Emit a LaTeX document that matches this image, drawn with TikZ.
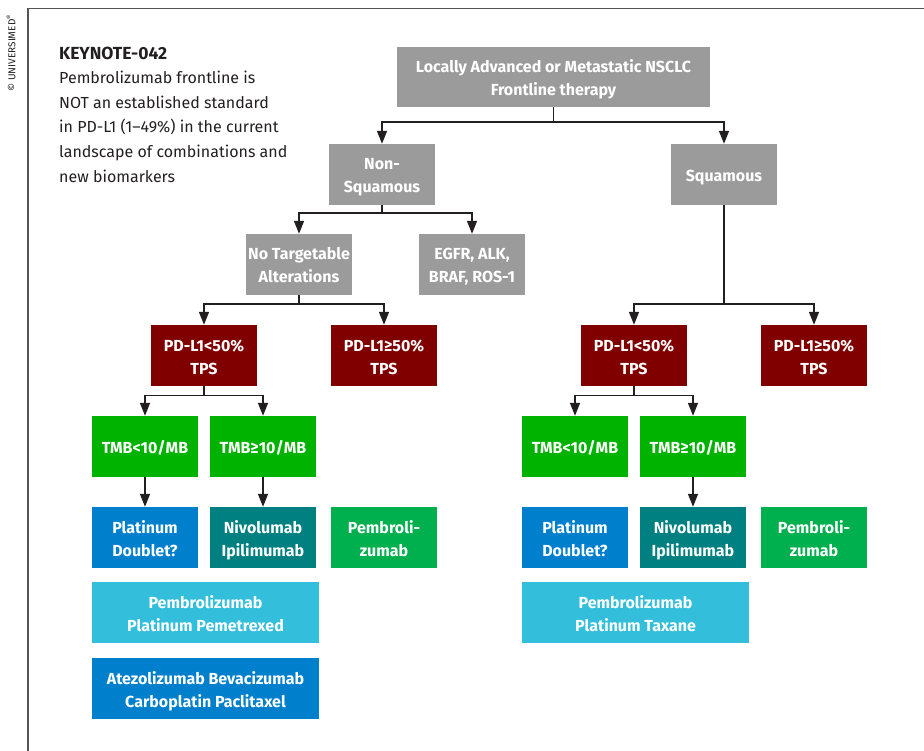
\documentclass[tikz,border=0pt]{standalone}
\usepackage{fontspec}
\setmainfont{Fira Sans}
\usetikzlibrary{arrows.meta}
\definecolor{boxgray}{HTML}{9B9B9B}
\definecolor{darkred}{HTML}{800000}
\definecolor{tmbgreen}{HTML}{00B300}
\definecolor{pembgreen}{HTML}{00B04F}
\definecolor{platblue}{HTML}{0080CC}
\definecolor{teal2}{HTML}{008080}
\definecolor{lightblue}{HTML}{33BFDB}
\definecolor{inkdark}{HTML}{231F20}
\definecolor{framegray}{HTML}{555555}
\tikzset{
  box/.style={minimum width=106pt, minimum height=61pt, inner sep=0pt, align=center,
    text=white, font=\bfseries\fontsize{16}{23}\selectfont,
    execute at begin node={\rule{0pt}{18pt}},
    execute at end node={\rule[-4pt]{0pt}{4pt}}},
  two/.style={text height=37pt, text depth=0pt},
  widebox/.style={box, minimum width=227pt},
  gbox/.style={box, fill=boxgray},
  rbox/.style={box, fill=darkred},
  tbox/.style={box, fill=tmbgreen},
  arr/.style={line width=1.4pt, draw=inkdark, -{Triangle[length=13pt,width=10pt]}},
}
\begin{document}
\begin{tikzpicture}[x=1pt,y=-1pt]
\useasboundingbox (0,0) rectangle (924,751);
% frame
\draw[line width=1.5pt, framegray] (28,751) -- (28,8.5) -- (924,8.5);
\node[rotate=90, font=\fontsize{10}{11}\selectfont, text=inkdark] (copy) at (11,53) {© UNIVERSIMED\textsuperscript{®}};
% left text
\node[anchor=north west, align=left, inner sep=0pt, text=inkdark, font=\fontsize{16}{24.6}\selectfont] (note) at (59,46.5)
  {{\fontsize{17.5}{24.6}\selectfont\textbf{KEYNOTE-042}}\\Pembrolizumab frontline is\\NOT an established standard\\in PD-L1 (1–49\%) in the current\\landscape of combinations and\\new biomarkers};
% boxes
\node[gbox, two, minimum width=313pt, minimum height=60pt] (top) at (553.5,77) {Locally Advanced or Metastatic NSCLC\\Frontline therapy};
\node[gbox, two] (ns) at (382,174.5) {Non-\\Squamous};
\node[gbox] (sq) at (724,174.5) {Squamous};
\node[gbox, two] (nta) at (299,264.5) {No Targetable\\Alterations};
\node[gbox, two] (egfr) at (472,264.5) {EGFR, ALK,\\BRAF, ROS-1};
\node[rbox, two] (pdlA) at (204,355.5) {PD-L1<50\%\\TPS};
\node[rbox, two] (pdhA) at (384,355.5) {PD-L1≥50\%\\TPS};
\node[rbox, two] (pdlB) at (634,355.5) {PD-L1<50\%\\TPS};
\node[rbox, two] (pdhB) at (814,355.5) {PD-L1≥50\%\\TPS};
\node[tbox] (tlA) at (145,446.5) {TMB<10/MB};
\node[tbox] (thA) at (263,446.5) {TMB≥10/MB};
\node[tbox] (tlB) at (575,446.5) {TMB<10/MB};
\node[tbox] (thB) at (693,446.5) {TMB≥10/MB};
\node[box, two, fill=platblue] (pdA) at (145,537.5) {Platinum\\Doublet?};
\node[box, two, fill=teal2] (nvA) at (263,537.5) {Nivolumab\\Ipilimumab};
\node[box, two, fill=pembgreen] (pbA) at (384,537.5) {Pembroli-\\zumab};
\node[box, two, fill=platblue] (pdB) at (575,537.5) {Platinum\\Doublet?};
\node[box, two, fill=teal2] (nvB) at (693,537.5) {Nivolumab\\Ipilimumab};
\node[box, two, fill=pembgreen] (pbB) at (814,537.5) {Pembroli-\\zumab};
\node[widebox, two, fill=lightblue] (ppA) at (205.5,612.5) {Pembrolizumab\\Platinum Pemetrexed};
\node[widebox, two, fill=platblue] (atA) at (205.5,688.5) {Atezolizumab Bevacizumab\\Carboplatin Paclitaxel};
\node[widebox, two, fill=lightblue] (ptB) at (635.5,612.5) {Pembrolizumab\\Platinum Taxane};
% connectors
\draw[arr] (top.south) -- ++(0,15) -| (ns.north);
\draw[arr] (top.south) -- ++(0,15) -| (sq.north);
\draw[arr] (ns.south) -- ++(0,8) -| (nta.north);
\draw[arr] (ns.south) -- ++(0,8) -| (egfr.north);
\draw[arr] (nta.south) -- ++(0,9) -| (pdlA.north);
\draw[arr] (nta.south) -- ++(0,9) -| (pdhA.north);
\draw[arr] (sq.south) -- ++(0,99) -| (pdlB.north);
\draw[arr] (sq.south) -- ++(0,99) -| (pdhB.north);
\draw[arr] (pdlA.south) -- ++(0,9) -| (tlA.north);
\draw[arr] (pdlA.south) -- ++(0,9) -| (thA.north);
\draw[arr] (pdlB.south) -- ++(0,9) -| (tlB.north);
\draw[arr] (pdlB.south) -- ++(0,9) -| (thB.north);
\draw[arr] (tlA.south) -- (pdA.north);
\draw[arr] (thA.south) -- (nvA.north);
\draw[arr] (thB.south) -- (nvB.north);
\end{tikzpicture}
\end{document}
